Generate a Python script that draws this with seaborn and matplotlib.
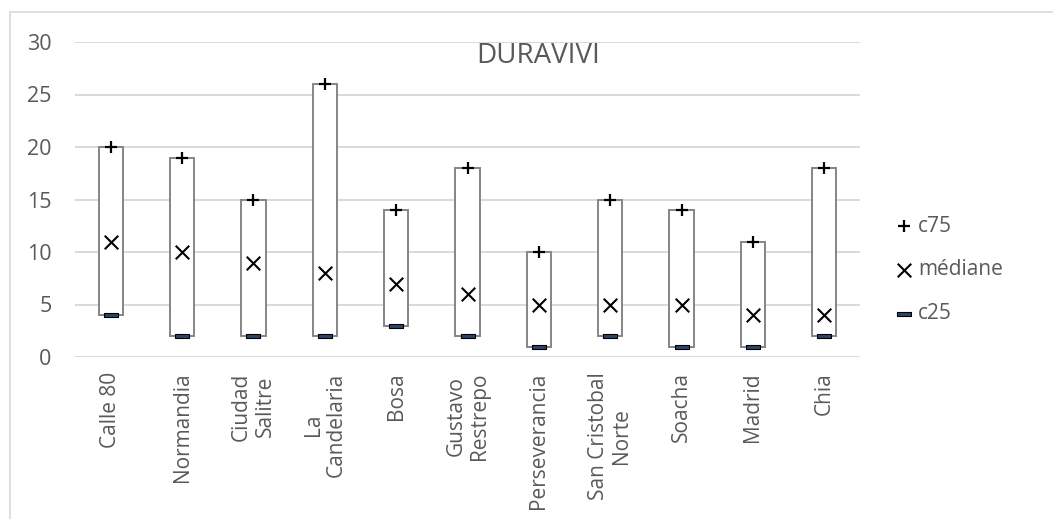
import numpy as np
import pandas as pd
import matplotlib
matplotlib.use("Agg")
import matplotlib.pyplot as plt
from matplotlib.markers import MarkerStyle
from matplotlib.patches import Rectangle
from matplotlib.path import Path
import seaborn as sns

SITES = ['Calle 80', 'Normandia', 'Ciudad\nSalitre', 'La\nCandelaria', 'Bosa',
         'Gustavo\nRestrepo', 'Perseverancia', 'San Cristobal\nNorte', 'Soacha',
         'Madrid', 'Chia']
C75 = [20, 19, 15, 26, 14, 18, 10, 15, 14, 11, 18]
MEDIANE = [11, 10, 9, 8, 7, 6, 5, 5, 5, 4, 4]
C25 = [4, 2, 2, 2, 3, 2, 1, 2, 1, 1, 2]

df = pd.DataFrame({'site': SITES, 'c75': C75, 'mediane': MEDIANE, 'c25': C25})

sns.set_theme(style="white")
plt.rcParams['font.family'] = ['Open Sans', 'DejaVu Sans']

TXT = '#595959'
GRID = '#d9d9d9'

fig = plt.figure(figsize=(10.53, 5.19), dpi=100)
ax = fig.add_axes([75/1053, 1 - 357/519, 785/1053, 315/519])

# white "up bars" between c25 and c75
ax.bar(df['site'], df['c75'] - df['c25'], bottom=df['c25'], width=0.34,
       color='white', edgecolor='#858585', linewidth=1.4, zorder=2)

dash = MarkerStyle(Path([(-1, -0.25), (1, -0.25), (1, 0.25), (-1, 0.25), (-1, -0.25)],
                        [Path.MOVETO, Path.LINETO, Path.LINETO, Path.LINETO, Path.CLOSEPOLY]))

sns.scatterplot(data=df, x='site', y='c75', marker='+', s=85, color='black',
                linewidth=1.6, label='c75', ax=ax, zorder=4)
sns.scatterplot(data=df, x='site', y='mediane', marker='x', s=95, color='black',
                linewidth=1.5, label='médiane', ax=ax, zorder=4)
sns.scatterplot(data=df, x='site', y='c25', marker=dash, s=110, color='#2b4568',
                edgecolor='black', linewidth=0.8, label='c25', ax=ax, zorder=4)

ax.set_xlim(-0.5, len(SITES) - 0.5)
ax.set_ylim(0, 30)
ax.set_yticks(np.arange(0, 31, 5))
ax.yaxis.grid(True, color=GRID, linewidth=1.4)
ax.set_axisbelow(True)
for s in ax.spines.values():
    s.set_visible(False)
ax.set_xlabel('')
ax.set_ylabel('')
ax.tick_params(axis='y', length=0, pad=17, labelsize=15.5, labelcolor=TXT)
ax.tick_params(axis='x', length=0, pad=11, labelsize=15, labelcolor=TXT)
for lab in ax.get_xticklabels():
    lab.set_rotation(90)
    lab.set_ha('center')
    lab.set_va('top')
    lab.set_multialignment('center')
    lab.set_linespacing(1.15)

ax.legend(loc='center left', bbox_to_anchor=(885/1053, 1 - 270/519),
          bbox_transform=fig.transFigure, frameon=False, borderpad=0,
          handlelength=0.8, handletextpad=0.3, labelspacing=1.1,
          fontsize=15, labelcolor=TXT, scatterpoints=1)

fig.text(538/1053, 1 - 63/519, 'DURAVIVI', ha='center', va='baseline',
         fontsize=20, color=TXT)

fig.patches.append(Rectangle((10/1053, -0.02), 1.05, 0.02 + 1 - 12/519,
                             transform=fig.transFigure, fill=False,
                             edgecolor=GRID, linewidth=1.2))

fig.savefig('out.png', dpi=100)
